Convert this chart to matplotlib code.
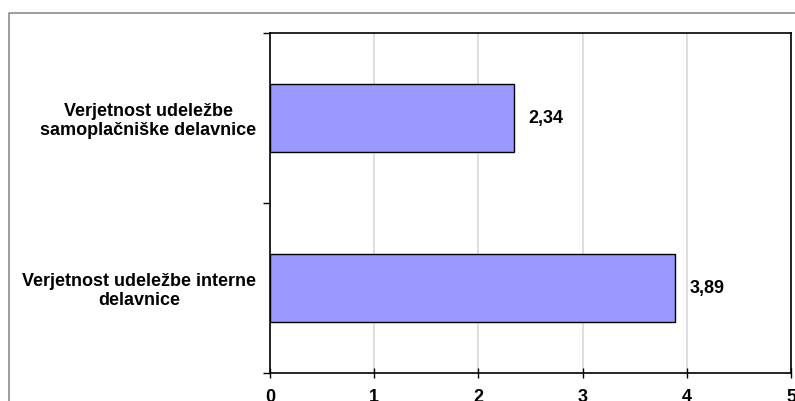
import matplotlib.pyplot as plt
from matplotlib.lines import Line2D

categories = ["Verjetnost udeležbe interne\ndelavnice",
              "Verjetnost udeležbe\nsamoplačniške delavnice"]
values = [3.89, 2.34]
value_labels = ["3,89", "2,34"]
x_ticks = [0, 1, 2, 3, 4, 5]

plt.rcParams['font.family'] = ['Liberation Sans', 'DejaVu Sans']
plt.rcParams['font.weight'] = 'bold'

fig = plt.figure(figsize=(7.95, 4.01), dpi=100)
W, H = 795, 401

# outer chart frame (runs off the right and bottom edge)
fig.add_artist(Line2D([9 / W, 9 / W, 1.01], [-0.01, 1 - 13 / H, 1 - 13 / H],
                      transform=fig.transFigure, color="#8c8c8c", lw=1.2))

ax = fig.add_axes([270 / W, 1 - 373 / H, 521 / W, 340 / H])
ypos = list(range(len(categories)))
ax.barh(ypos, values, height=0.4, color="#9999ff", edgecolor="black", lw=1, zorder=3)

for y, v, lab in zip(ypos, values, value_labels):
    ax.text(v + 0.14, y, lab, va="center", ha="left", fontsize=13, fontweight="bold")

ax.set_xlim(0, 5)
ax.set_ylim(-0.5, len(categories) - 0.5)
ax.set_xticks(x_ticks)
ax.set_xticklabels([str(t) for t in x_ticks], fontsize=13, fontweight="bold")
ax.xaxis.grid(True, color="#d9d9d9", lw=1.2, zorder=0)

ax.set_yticks(ypos)
ax.set_yticklabels(categories, fontsize=13, fontweight="bold", multialignment="center",
                   linespacing=1.15)
ax.set_yticks([-0.5, 0.5, 1.5], minor=True)
ax.tick_params(axis="y", which="major", length=0, pad=10)
ax.tick_params(axis="y", which="minor", length=5, width=1)
ax.tick_params(axis="x", direction="inout", length=7, width=1, pad=8)

for s in ax.spines.values():
    s.set_color("black")
    s.set_linewidth(1.2)

fig.savefig("out.png", dpi=100)
